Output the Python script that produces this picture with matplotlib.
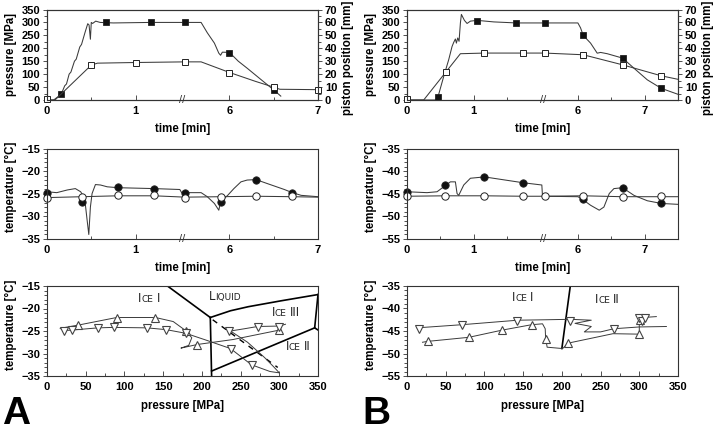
import numpy as np
import matplotlib
matplotlib.use("Agg")
import matplotlib.pyplot as plt
import matplotlib.transforms as mtrans
from matplotlib.ticker import FixedLocator, MultipleLocator, FixedFormatter

plt.rcParams['font.family'] = ['Liberation Sans', 'DejaVu Sans']
plt.rcParams['font.weight'] = 'bold'
plt.rcParams['axes.labelweight'] = 'bold'
plt.rcParams['font.size'] = 8

# ---------------- A, top: pressure [MPa] and piston position [mm] vs time [min]
a_p_line_t = [0.0, 0.075, 0.16, 0.20, 0.22, 0.25, 0.27, 0.31, 0.33, 0.37, 0.39, 0.43, 0.46, 0.475,
              0.49, 0.50, 0.515, 0.55, 0.60, 0.75, 1.17, 5.50, 5.68, 5.75, 5.83, 5.88, 5.90, 5.92,
              6.00, 6.10, 6.20, 6.36, 6.50, 6.58]
a_p_line = [0, 0, 22, 55, 62, 100, 108, 150, 158, 205, 215, 262, 295, 290,
            235, 300, 296, 305, 300, 298, 300, 300, 300, 260, 220, 181, 173, 185,
            184, 150, 123, 78, 39, 15]
a_sq_t = [0.16, 0.67, 1.17, 5.50, 6.00, 6.50]
a_sq_p = [22, 300, 300, 300, 180, 40]
a_pos_line_t = [0.0, 0.09, 0.50, 0.57, 1.00, 5.50, 5.68, 6.00, 6.29, 6.50, 6.57, 7.00]
a_pos_line = [0, 0, 27, 28.5, 29, 29.5, 29.5, 21.3, 14.5, 9.9, 8.3, 8.0]
a_osq_t = [0.0, 0.50, 1.00, 5.50, 6.00, 6.50, 7.00]
a_osq = [0.5, 27, 29, 29.5, 21, 10, 8]

# ---------------- B, top
b_p_line_t = [0.0, 0.42, 0.465, 0.55, 0.625, 0.675, 0.70, 0.725, 0.74, 0.76, 0.78, 0.80, 0.815,
              0.86, 0.90, 0.95, 1.05, 1.30, 1.64, 5.50, 6.00, 6.04, 6.08, 6.19, 6.29, 6.34,
              6.44, 6.67, 6.84, 7.04, 7.25, 7.50]
b_p_line = [0, 0, 13, 91, 156, 207, 223, 236, 220, 240, 227, 298, 331,
            308, 296, 305, 308, 302, 298, 298, 298, 279, 250, 220, 181, 184,
            179, 162, 123, 78, 45, 22]
b_sq_t = [0.47, 1.05, 1.64, 5.50, 6.08, 6.67, 7.25]
b_sq_p = [13, 307, 298, 298, 250, 162, 45]
b_pos_line_t = [0.0, 0.25, 0.80, 1.16, 1.74, 5.50, 6.08, 6.67, 7.25, 7.50]
b_pos_line = [0, 0, 35.8, 36.3, 36.3, 36.3, 35, 27.2, 18.7, 16]
b_osq_t = [0.0, 0.585, 1.16, 1.74, 5.50, 6.08, 6.67, 7.25]
b_osq = [0.5, 21.3, 36.3, 36.3, 36.3, 35, 27.2, 18.7]

# ---------------- A, middle: temperature [°C] vs time
a_t1_line_t = [0.0, 0.11, 0.23, 0.32, 0.38, 0.415, 0.434, 0.453, 0.472, 0.49, 0.509, 0.547, 0.604,
               0.68, 0.80, 1.21, 1.50, 1.52, 5.50, 5.68, 5.75, 5.83, 5.88, 5.90, 5.98, 6.05, 6.13,
               6.20, 6.30, 6.43, 6.62, 6.71, 6.81, 7.00]
a_t1_line = [-24.5, -24.7, -24.1, -23.8, -24.5, -25.6, -27.5, -30.8, -34.0, -27.9, -24.9, -22.9, -23.0,
             -23.4, -23.6, -23.8, -24.0, -24.7, -24.7, -24.7, -25.6, -27.1, -28.6, -26.7, -25.3, -23.8, -22.3,
             -21.9, -21.8, -22.7, -24.0, -24.7, -25.3, -25.6]
a_fc_t = [0.0, 0.40, 0.80, 1.21, 5.50, 5.90, 6.30, 6.71]
a_fc = [-24.7, -26.7, -23.5, -23.8, -24.7, -26.7, -21.8, -24.7]
a_oc = [-25.8, -25.6, -25.3, -25.3, -25.8, -25.6, -25.5, -25.5]
a_t2_line_t = [0.0, 0.40, 0.80, 1.21, 5.50, 5.90, 6.30, 6.71, 7.00]
a_t2_line = [-25.8, -25.6, -25.4, -25.4, -25.7, -25.6, -25.5, -25.6, -25.7]

# ---------------- B, middle
b_t1_line_t = [0.0, 0.30, 0.45, 0.55, 0.65, 0.725, 0.75, 0.775, 0.85, 0.95, 1.16, 1.74, 2.02, 2.03,
               5.50, 6.00, 6.07, 6.19, 6.32, 6.39, 6.47, 6.54, 6.67, 6.84, 7.04, 7.25, 7.50]
b_t1_line = [-44.5, -44.7, -44.5, -43.4, -42.3, -42.3, -44.9, -45.3, -43.0, -41.5, -41.2, -42.5, -43.0, -45.5,
             -45.5, -45.6, -46.2, -47.5, -48.6, -47.9, -44.9, -43.8, -43.6, -45.3, -46.5, -47.1, -47.3]
b_fc_t = [0.0, 0.575, 1.16, 1.74, 6.07, 6.67, 7.25]
b_fc = [-44.5, -43.0, -41.3, -42.5, -46.2, -43.6, -47.1]
b_oc_t = [0.0, 0.575, 1.16, 1.74, 5.50, 6.08, 6.67, 7.25]
b_oc = [-45.4, -45.4, -45.4, -45.4, -45.4, -45.4, -45.6, -45.5]
b_t2_line_t = [0.0, 0.575, 1.16, 1.74, 5.50, 6.08, 6.67, 7.25, 7.50]
b_t2_line = [-45.5, -45.4, -45.4, -45.5, -45.5, -45.4, -45.6, -45.6, -45.6]

# ---------------- A, bottom: phase diagram, temperature vs pressure
a_il_p, a_il_T = [155.6, 210.9], [-15.0, -22.0]
a_v_p, a_v_T = [210.9, 212.6], [-22.0, -35.0]
a_l3_p, a_l3_T = [210.9, 237, 260, 302, 350], [-22.0, -20.5, -19.6, -18.3, -16.9]
a_32_p, a_32_T = [212.6, 345.7], [-33.9, -24.3]
a_r_p, a_r_T = [350.0, 345.7, 352.0], [-16.9, -24.3, -25.0]
a_dash_p, a_dash_T = [214, 298], [-22.5, -33.1]

a_dn_path_p = [18, 22, 32, 66, 86, 129, 154, 179, 205, 237, 264, 288, 300, 293, 281, 259, 237, 255, 272, 300, 308]
a_dn_path_T = [-24.5, -24.9, -24.8, -24.3, -24.2, -24.3, -24.7, -25.5, -27.0, -28.9, -32.5, -34.0, -34.3,
               -33.0, -30.9, -27.5, -25.0, -24.5, -24.0, -23.9, -23.5]
a_up_path_p = [17, 40, 90, 140, 163, 179, 187, 183, 173, 194, 240, 300]
a_up_path_T = [-24.4, -23.7, -22.0, -22.0, -22.9, -24.9, -26.5, -28.2, -28.8, -28.0, -26.9, -24.8]
a_up_p = [40, 90, 140, 179, 194, 300]
a_up_T = [-23.7, -22.0, -22.0, -24.9, -28.0, -24.8]
a_dn_p = [22, 32, 66, 86, 129, 154, 179, 237, 264.5, 235.5, 272, 300]
a_dn_T = [-24.9, -24.8, -24.3, -24.2, -24.3, -24.7, -25.5, -28.9, -32.5, -24.9, -24.0, -24.2]

# ---------------- B, bottom
b_ph_p, b_ph_T = [210.9, 200.0], [-35.0, -48.9]
b_dn_path_p = [13, 71, 143, 180, 211, 238, 217, 238, 229, 250, 267, 300, 335]
b_dn_path_T = [-44.3, -43.6, -42.6, -42.5, -42.4, -42.6, -43.3, -44.0, -45.2, -45.2, -44.5, -44.1, -44.0]
b_up_path_p = [20, 27, 80, 123, 161, 175, 178.5, 179, 181, 201, 208, 266, 300, 300, 305, 322]
b_up_path_T = [-47.5, -47.3, -46.4, -44.8, -43.6, -43.4, -44.5, -46.5, -48.6, -48.9, -47.7, -45.6,
               -45.7, -42.4, -42.0, -41.8]
b_up_p = [27, 80, 123, 161, 179, 208, 300, 301]
b_up_T = [-47.3, -46.4, -44.8, -43.6, -46.7, -47.7, -45.6, -42.5]
b_dn_p = [15, 71, 142, 211, 267, 300, 303, 308]
b_dn_T = [-44.5, -43.7, -42.7, -42.8, -44.6, -42.1, -42.8, -42.0]

LINE = '#3a3a3a'
EDGE = '#222222'
SPINE = '#333333'
W, H = 713, 432

fig = plt.figure(figsize=(W / 100, H / 100), dpi=100)


def add_ax(l, t, r, b):
    return fig.add_axes([l / W, 1 - b / H, (r - l) / W, (b - t) / H])


def style(ax):
    for s in ax.spines.values():
        s.set_color(SPINE)
        s.set_linewidth(0.8)
    ax.tick_params(axis='x', which='both', direction='in', color=SPINE, width=0.6, pad=4)
    ax.tick_params(axis='x', which='major', length=3.5)
    ax.tick_params(axis='x', which='minor', length=2.5)
    ax.tick_params(axis='y', which='both', direction='out', color=SPINE, width=0.6, pad=2)
    ax.tick_params(axis='y', which='major', length=3)
    ax.tick_params(axis='y', which='minor', length=2)


def time_axis(ax, brk, off, tmax, minors):
    # broken time axis: the segment brk..brk+off is cut out
    t_pts = [-100.0, brk, brk + off, 100.0]
    u_pts = [-100.0, brk, brk + 1e-4, 100.0 - off]
    ax.set_xscale('function', functions=(lambda t: np.interp(t, t_pts, u_pts),
                                         lambda u: np.interp(u, u_pts, t_pts)))
    ax.set_xlim(0, tmax)
    ax.xaxis.set_major_locator(FixedLocator([0, 1, 6, 7]))
    ax.xaxis.set_major_formatter(FixedFormatter(['0', '1', '6', '7']))
    ax.xaxis.set_minor_locator(FixedLocator(minors))
    ax.xaxis.set_minor_formatter(FixedFormatter([''] * len(minors)))
    tr = mtrans.blended_transform_factory(ax.transData, ax.transAxes)
    ax.text(brk, 0.0, '//', transform=tr, ha='center', va='center', fontsize=8,
            fontweight='normal', color=SPINE)
    ax.set_xlabel('time [min]', fontsize=8.3)
    ax.xaxis.set_label_coords(0.5, -0.25)


def caps_label(ax, x, y, parts):
    # small caps: big and small pieces share one baseline at data y
    txt = None
    for s, big in parts:
        size = 8.5 if big else 6.5
        kw = dict(fontsize=size, fontweight='normal', family='DejaVu Sans', ha='left', va='baseline',
                  color='#222222')
        if txt is None:
            txt = ax.text(x, y, s, **kw)
        else:
            txt = ax.annotate(s, xy=(1, y), xycoords=(txt, 'data'), **kw)


def top_panel(l, r, brk, off, tmax, minors, pt, p, st, sp, qt, q, ot, o):
    ax = add_ax(l, 9.5, r, 100)
    time_axis(ax, brk, off, tmax, minors)
    ax.set_ylim(0, 350)
    ax.yaxis.set_major_locator(MultipleLocator(50))
    ax.yaxis.set_minor_locator(MultipleLocator(25))
    ax.plot(pt, p, color=LINE, lw=0.75)
    ax.plot(st, sp, ls='none', marker='s', ms=5, mfc='#111111', mec=EDGE, mew=0.6, clip_on=False)
    ax.set_ylabel('pressure [MPa]', fontsize=8.3)
    ax.yaxis.set_label_coords(-0.112, 0.5)
    ax2 = ax.twinx()
    ax2.set_ylim(0, 70)
    ax2.yaxis.set_major_locator(MultipleLocator(10))
    ax2.yaxis.set_minor_locator(MultipleLocator(5))
    ax2.plot(qt, q, color=LINE, lw=0.75)
    ax2.plot(ot, o, ls='none', marker='s', ms=5, mfc='white', mec=EDGE, mew=0.7, clip_on=False)
    ax2.set_ylabel('piston position [mm]', fontsize=8.3)
    ax2.yaxis.set_label_coords(1.087, 0.47)
    style(ax)
    style(ax2)
    return ax


def mid_panel(l, r, brk, off, tmax, minors, ylo, lt, lv, ft, fv, l2t, l2v, ot, ov):
    ax = add_ax(l, 149, r, 239)
    time_axis(ax, brk, off, tmax, minors)
    ax.set_ylim(ylo, ylo + 20)
    ax.yaxis.set_major_locator(MultipleLocator(5))
    ax.yaxis.set_minor_locator(MultipleLocator(1))
    ax.plot(lt, lv, color=LINE, lw=0.75)
    ax.plot(l2t, l2v, color=LINE, lw=0.75)
    ax.plot(ft, fv, ls='none', marker='o', ms=5.3, mfc='#111111', mec=EDGE, mew=0.6, clip_on=False)
    ax.plot(ot, ov, ls='none', marker='o', ms=5.3, mfc='white', mec=EDGE, mew=0.7, clip_on=False)
    ax.set_ylabel('temperature [°C]', fontsize=8.3)
    ax.yaxis.set_label_coords(-0.112, 0.58)
    style(ax)
    return ax


def bot_panel(l, r, ylo):
    ax = add_ax(l, 286, r, 376)
    ax.set_xlim(0, 350)
    ax.set_ylim(ylo, ylo + 20)
    ax.xaxis.set_major_locator(MultipleLocator(50))
    ax.xaxis.set_minor_locator(MultipleLocator(25))
    ax.yaxis.set_major_locator(MultipleLocator(5))
    ax.yaxis.set_minor_locator(MultipleLocator(1))
    ax.set_xlabel('pressure [MPa]', fontsize=8.3)
    ax.xaxis.set_label_coords(0.5, -0.27)
    ax.set_ylabel('temperature [°C]', fontsize=8.3)
    ax.yaxis.set_label_coords(-0.112, 0.57)
    style(ax)
    return ax


tri = dict(ls='none', ms=6, mfc='white', mec='#444444', mew=0.8, clip_on=False)

# ---- column A
top_panel(47, 318, 1.53, 3.94, 7.0, [0.5, 6.5],
          a_p_line_t, a_p_line, a_sq_t, a_sq_p, a_pos_line_t, a_pos_line, a_osq_t, a_osq)
mid_panel(47, 318, 1.53, 3.94, 7.0, [0.5, 6.5], -35,
          a_t1_line_t, a_t1_line, a_fc_t, a_fc, a_t2_line_t, a_t2_line, a_fc_t, a_oc)
axA = bot_panel(47, 318, -35)
for pp, tt in [(a_il_p, a_il_T), (a_v_p, a_v_T), (a_l3_p, a_l3_T), (a_32_p, a_32_T), (a_r_p, a_r_T)]:
    axA.plot(pp, tt, color='black', lw=1.2)
axA.plot(a_dash_p, a_dash_T, color='black', lw=1.0, ls=(0, (4, 4)))
axA.plot(a_dn_path_p, a_dn_path_T, color=LINE, lw=0.7)
axA.plot(a_up_path_p, a_up_path_T, color=LINE, lw=0.7)
axA.plot(a_up_p, a_up_T, marker='^', **tri)
axA.plot(a_dn_p, a_dn_T, marker='v', **tri)
caps_label(axA, 118, -18.6, [('I', True), ('CE', False), (' ', False), ('I', True)])
caps_label(axA, 208.5, -18.2, [('L', True), ('IQUID', False)])
caps_label(axA, 290, -21.6, [('I', True), ('CE', False), (' ', False), ('III', True)])
caps_label(axA, 308, -29.2, [('I', True), ('CE', False), (' ', False), ('II', True)])

# ---- column B
top_panel(407, 678, 2.04, 3.44, 7.5, [0.5, 1.5, 6.5],
          b_p_line_t, b_p_line, b_sq_t, b_sq_p, b_pos_line_t, b_pos_line, b_osq_t, b_osq)
mid_panel(407, 678, 2.04, 3.44, 7.5, [0.5, 1.5, 6.5], -55,
          b_t1_line_t, b_t1_line, b_fc_t, b_fc, b_t2_line_t, b_t2_line, b_oc_t, b_oc)
axB = bot_panel(407, 678, -55)
axB.plot(b_ph_p, b_ph_T, color='black', lw=1.2)
axB.plot(b_dn_path_p, b_dn_path_T, color=LINE, lw=0.7)
axB.plot(b_up_path_p, b_up_path_T, color=LINE, lw=0.7)
axB.plot(b_up_p, b_up_T, marker='^', **tri)
axB.plot(b_dn_p, b_dn_T, marker='v', **tri)
caps_label(axB, 135.5, -38.4, [('I', True), ('CE', False), (' ', False), ('I', True)])
caps_label(axB, 243, -38.8, [('I', True), ('CE', False), (' ', False), ('II', True)])

fig.text(2 / W, 0.0, 'A', fontsize=28, fontweight='bold', va='bottom', ha='left')
fig.text(362 / W, 0.0, 'B', fontsize=28, fontweight='bold', va='bottom', ha='left')

fig.savefig('out.png', dpi=100)
